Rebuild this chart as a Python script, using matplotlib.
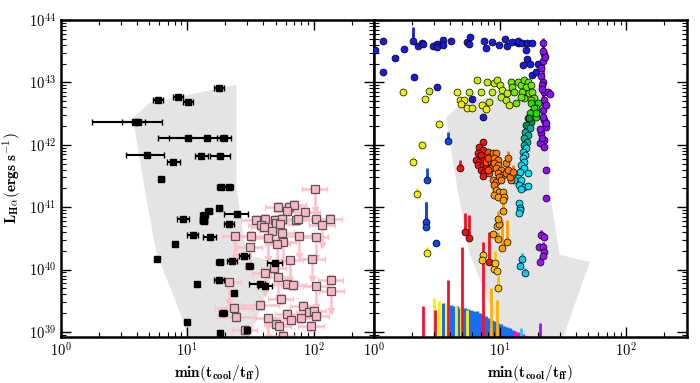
import matplotlib.pyplot as plt
import numpy as np
from matplotlib.ticker import FuncFormatter, LogLocator, NullFormatter

plt.rcParams['mathtext.fontset'] = 'cm'
plt.rcParams['font.family'] = 'serif'

# all values below are log10(min(tcool/tff)) and log10(L_Halpha)

# shaded simulation region
shade_lx = [0.57, 0.70, 1.39, 1.39, 1.47, 1.71, 1.52, 1.45, 1.06, 0.955, 0.756, 0.664]
shade_ly = [42.43, 42.67, 42.96, 41.30, 40.24, 40.12, 39.04, 38.5, 38.5, 39.25, 40.27, 41.28]

# observed: black squares (x errors in dex, low / high)
obs_lx = [1.254, 0.767, 0.926, 1.005, 0.587, 0.614, 1.010, 1.156, 1.288, 0.683, 1.111, 1.262,
          0.891, 0.794, 1.27, 1.328, 1.254, 1.394, 1.169, 1.135, 1.128, 1.13, 0.966, 1.333,
          1.042, 1.177, 0.905, 0.764, 1.256, 1.355, 1.447, 1.492, 1.249, 1.079, 1.368, 1.283,
          0.997, 1.262, 1.693, 1.579, 1.614, 1.471]
obs_ly = [42.907, 42.71, 42.77, 42.68, 42.363, 42.37, 42.107, 42.107, 42.107, 41.84, 41.824, 41.824,
          41.723, 41.445, 41.323, 41.323, 40.987, 40.891, 40.944, 40.875, 40.80, 40.773, 40.811, 40.731,
          40.549, 40.528, 40.411, 40.165, 40.123, 40.144, 40.224, 40.064, 39.84, 39.771, 39.621, 39.312,
          39.163, 38.987, 40.112, 39.771, 39.739, 39.035]
obs_elo = [0.04, 0.04, 0.04, 0.04, 0.344, 0.133, 0.243, 0.30, 0.05, 0.17, 0.05, 0.08,
           0.05, 0.02, 0.035, 0.035, 0.02, 0.10, 0.03, 0.03, 0.03, 0.03, 0.05, 0.04,
           0.04, 0.05, 0.0, 0.0, 0.03, 0.04, 0.04, 0.03, 0.04, 0.0, 0.0, 0.03,
           0.0, 0.0, 0.06, 0.09, 0.05, 0.02]
obs_ehi = [0.04, 0.04, 0.04, 0.04, 0.217, 0.053, 0.146, 0.10, 0.06, 0.13, 0.05, 0.08,
           0.05, 0.02, 0.035, 0.035, 0.02, 0.084, 0.03, 0.03, 0.03, 0.03, 0.05, 0.04,
           0.04, 0.05, 0.0, 0.0, 0.03, 0.04, 0.04, 0.03, 0.04, 0.0, 0.0, 0.03,
           0.0, 0.0, 0.06, 0.04, 0.06, 0.02]

# observed: pink squares (detections)
pk_lx = [1.717, 1.804, 1.844, 1.786, 1.934, 1.548, 1.617, 1.585, 1.606, 1.693, 1.704, 1.751,
         1.738, 1.862, 1.879, 2.021, 2.129, 1.505, 1.672, 1.748, 1.685, 1.786, 1.839, 2.135,
         1.741, 1.574, 1.913, 1.373, 1.963, 2.002, 2.021, 1.791, 1.825, 1.897, 1.706, 1.725,
         1.979, 1.383, 1.455, 1.756]
pk_ly = [40.997, 41.01, 41.03, 40.94, 40.923, 40.795, 40.816, 40.72, 40.69, 40.795, 40.747, 40.816,
         40.736, 40.80, 40.816, 40.805, 40.805, 40.539, 40.624, 40.592, 40.021, 39.776, 39.76, 39.84,
         39.536, 39.435, 39.424, 39.392, 39.317, 39.333, 39.253, 39.291, 39.2, 39.227, 39.136, 39.104,
         39.104, 39.248, 39.035, 38.944]
pk_ex = [0.10, 0.10, 0.10, 0.10, 0.12, 0.12, 0.10, 0.10, 0.10, 0.10, 0.10, 0.10,
         0.10, 0.10, 0.10, 0.10, 0.10, 0.10, 0.10, 0.10, 0.10, 0.10, 0.10, 0.10,
         0.10, 0.15, 0.10, 0.15, 0.10, 0.10, 0.10, 0.10, 0.10, 0.10, 0.10, 0.10,
         0.10, 0.15, 0.10, 0.10]

# observed: pink squares (upper limits)
pu_lx = [2.010, 2.066, 1.378, 1.640, 1.883, 2.016, 1.762, 1.712, 1.494, 1.817, 1.99, 1.614,
         1.722, 2.016, 2.14, 1.328, 1.64]
pu_ly = [41.291, 40.72, 40.539, 40.501, 40.544, 40.523, 40.448, 40.405, 40.368, 40.16, 40.176, 39.952,
         39.883, 39.739, 39.664, 39.797, 39.227]

# simulation tracks (circles), grouped by colour
blue_lx = [0.013, 0.071, 0.071, 0.167, 0.238, 0.31, 0.317, 0.349, 0.381, 0.389, 0.468, 0.5, 0.5,
           0.548, 0.548, 0.611, 0.738, 0.754, 0.762, 0.873, 0.889, 0.937, 0.992, 1.04, 1.056,
           1.095, 1.14, 1.143, 1.175, 1.21, 1.254, 1.206, 1.21, 1.183, 1.238, 1.25, 1.286, 1.302,
           0.503, 0.775, 0.865]
blue_ly = [43.52, 43.67, 43.17, 43.39, 43.54, 43.67, 43.08, 43.58, 43.63, 43.61, 43.58, 43.62, 43.57,
           43.68, 43.60, 43.67, 43.65, 43.62, 43.72, 43.67, 43.55, 43.65, 43.60, 43.70, 43.59,
           43.64, 43.63, 43.66, 43.63, 43.63, 43.63, 43.52, 43.37, 43.28, 43.29, 43.12, 43.17, 43.29,
           42.93, 42.73, 42.45]

blue2_lx = [0.590, 0.418, 0.413, 0.413, 0.490]
blue2_ly = [42.06, 41.44, 40.77, 40.69, 40.42]
blue2_top = [42.20, 41.63, 41.08, 41.08, 40.48]

purple_lx = [1.336, 1.336, 1.325, 1.336, 1.344, 1.376, 1.397, 1.349, 1.336, 1.344, 1.365, 1.325,
             1.349, 1.317, 1.349, 1.328, 1.317, 1.341, 1.36, 1.33, 1.32, 1.35, 1.36, 1.36,
             1.339, 1.352, 1.331, 1.36]
purple_ly = [43.63, 43.34, 43.23, 43.01, 42.85, 42.85, 42.82, 42.72, 42.56, 42.40, 42.29, 42.19,
             42.08, 42.03, 41.96, 42.11, 42.25, 42.45, 42.63, 42.95, 43.10, 43.45, 41.60, 41.14,
             43.50, 43.40, 42.90, 42.35]
purple2_lx = [1.325, 1.347, 1.304, 1.339, 1.347, 1.341, 1.315]
purple2_ly = [40.56, 40.52, 40.36, 40.37, 40.29, 40.22, 40.13]

yellow_lx = [0.518, 0.379, 0.233, 0.407, 0.661, 0.683, 0.714, 0.693, 0.741, 0.775, 0.86, 0.886]
yellow_ly = [42.34, 42.0, 42.84, 42.74, 42.85, 42.72, 42.72, 42.66, 42.59, 42.59, 42.64, 42.57]
yellow2_lx = [0.312, 0.344, 0.423]
yellow2_ly = [41.73, 41.21, 40.27]
yellow2_top = [41.80, 41.30, 40.36]

lime_lx = [0.437, 0.754, 0.82, 0.847, 0.913, 0.939, 0.894, 0.952, 0.979, 1.0, 1.018, 1.005,
           1.045, 1.058, 1.071]
lime_ly = [42.86, 42.84, 43.04, 42.85, 42.69, 42.85, 43.01, 42.99, 43.04, 42.96, 42.88, 42.77,
           42.72, 42.83, 42.64]
green_lx = [1.085, 1.098, 1.111, 1.125, 1.138, 1.164, 1.19, 1.217, 1.204, 1.177, 1.19, 1.164,
            1.243, 1.23, 1.256, 1.27, 1.243]
green_ly = [43.01, 42.93, 42.85, 42.67, 43.01, 42.96, 43.04, 43.01, 42.93, 42.85, 42.75, 42.77,
            42.96, 42.83, 42.85, 42.75, 42.72]
bgreen_lx = [1.296, 1.283, 1.256, 1.283, 1.246, 1.272, 1.233, 1.286]
bgreen_ly = [42.67, 42.59, 42.53, 42.45, 42.67, 42.59, 42.51, 42.51]
dgreen_lx = [1.22, 1.246, 1.206, 1.23]
dgreen_ly = [42.43, 42.37, 42.32, 42.43]
teal_lx = [1.233, 1.198, 1.22, 1.193, 1.214, 1.188]
teal_ly = [42.27, 42.21, 42.16, 42.11, 42.05, 42.0]
cyan_lx = [1.206, 1.180, 1.198, 1.180, 1.193, 1.167, 1.188, 1.161, 1.220, 1.140, 1.167, 1.153,
           1.193, 1.220, 1.167, 1.153, 1.161, 1.159, 1.153, 1.111]
cyan_ly = [41.95, 41.89, 41.84, 41.79, 41.73, 41.68, 41.63, 41.57, 41.55, 41.47, 41.44, 41.36,
           41.33, 41.34, 41.29, 41.07, 40.99, 40.96, 40.90, 41.44]
cyan2_lx = [1.175, 1.161, 1.198]
cyan2_ly = [40.17, 40.06, 39.94]
cyan2_top = [40.27, 40.15, 40.03]

red_lx = [0.863, 0.836, 0.863, 0.823, 0.849, 0.810, 0.836, 0.875, 0.823, 0.863, 0.889, 0.849,
          0.875, 0.863]
red_ly = [42.05, 41.97, 41.92, 41.87, 41.84, 41.76, 41.73, 41.76, 41.68, 41.68, 41.65, 41.60,
          41.57, 41.50]
red2_lx = [0.685, 0.725, 0.752, 0.915]
red2_ly = [41.63, 40.61, 40.50, 40.12]
red2_top = [41.76, 40.90, 40.88, 40.61]
rorange_lx = [0.902, 0.915, 0.889, 0.929, 0.902, 0.942, 0.929, 0.915, 0.902]
rorange_ly = [41.89, 41.81, 41.73, 41.73, 41.79, 41.68, 41.63, 41.55, 41.60]
orange_lx = [0.942, 0.968, 0.950, 0.982, 0.955, 0.987, 0.968, 1.008, 0.982, 1.021, 1.048, 0.994,
             0.942, 0.968, 0.950, 1.008, 1.061, 1.048, 1.087, 1.082]
orange_ly = [41.87, 41.87, 41.79, 41.76, 41.71, 41.68, 41.63, 41.60, 41.55, 41.52, 41.55, 41.48,
             41.44, 41.41, 41.36, 41.44, 41.60, 41.71, 41.44, 41.49]
orange2_lx = [1.101, 1.061]
orange2_ly = [41.57, 41.79]
orange2_top = [41.68, 41.90]
amber_lx = [0.968, 0.994, 1.021, 0.955, 0.987, 1.029, 1.021, 0.976, 0.994, 0.942]
amber_ly = [41.28, 41.25, 41.25, 41.20, 41.17, 41.17, 41.12, 40.70, 40.73, 40.57]
amber2_lx = [1.021, 0.982, 0.987, 1.056, 1.016]
amber2_ly = [40.94, 40.81, 40.49, 40.45, 40.35]
amber2_top = [41.10, 40.94, 40.60, 40.80, 40.80]
gold_lx = [0.863, 0.857, 0.950, 0.976]
gold_ly = [40.24, 40.16, 40.01, 39.97]
gold2_lx = [0.960, 0.987]
gold2_ly = [40.11, 39.71]
gold2_top = [40.30, 39.90]

# limits rising from below the plot
lim_red_lx = [0.391, 0.487, 0.585, 0.701, 0.867]
lim_red_top = [39.41, 39.35, 39.84, 40.36, 40.45]
lim_yel_lx = [0.474, 0.513, 0.577, 0.651, 0.687, 0.738]
lim_yel_top = [39.55, 39.50, 39.46, 39.42, 39.41, 39.36]
lim_blue_lx = [0.545, 0.609, 0.627, 0.655, 0.675, 0.698, 0.722, 0.746, 0.770, 0.794, 0.817, 0.841,
               0.865, 0.889, 0.913, 0.937, 0.960, 0.984, 1.008, 1.032, 1.056, 1.079, 1.103]
lim_blue_top = [39.47, 39.44, 39.42, 39.41, 39.39, 39.38, 39.38, 39.37, 39.36, 39.34, 39.33, 39.31,
                39.29, 39.26, 39.23, 39.20, 39.18, 39.15, 39.13, 39.10, 39.08, 39.06, 39.03]
lim_mag_lx = [1.119, 1.139, 1.159, 1.179, 1.198, 1.218]
lim_mag_top = [39.02, 39.0, 38.98, 38.97, 38.94, 38.93]
lim_amber_lx = [0.929, 0.976]
lim_amber_top = [39.70, 39.52]
lim_cyan_lx = [1.167]
lim_cyan_top = [39.07]
lim_purple_lx = [1.312]
lim_purple_top = [39.15]

YMIN = 10**38.92
PINK = '#ffbfcb'

fig, (ax1, ax2) = plt.subplots(1, 2, figsize=(7, 3.83), dpi=100, sharey=True)
fig.subplots_adjust(left=0.087, right=0.981, bottom=0.12, top=0.948, wspace=0)

for ax in (ax1, ax2):
    ax.fill(10**np.array(shade_lx), 10**np.array(shade_ly), color='#e4e4e4', lw=0, zorder=0)

# left panel
pk_x = 10**np.array(pk_lx)
pk_y = 10**np.array(pk_ly)
pk_e = np.array(pk_ex)
ax1.errorbar(pk_x, pk_y,
             xerr=[pk_x - 10**(np.array(pk_lx) - pk_e), 10**(np.array(pk_lx) + pk_e) - pk_x],
             yerr=[pk_y - 10**(np.array(pk_ly) - 0.08), 10**(np.array(pk_ly) + 0.08) - pk_y],
             fmt='s', ms=6, mfc='#f7b8c4', mec='#555555', mew=0.9, ecolor=PINK,
             elinewidth=1.8, capsize=2.5, capthick=1.2, zorder=2)

# upper limits: line down with an arrow head
pu_x = 10**np.array(pu_lx)
pu_y = 10**np.array(pu_ly)
pu_low = 10**(np.array(pu_ly) - 0.33)
ax1.vlines(pu_x, pu_low, pu_y, color=PINK, lw=1.8, zorder=2)
ax1.plot(pu_x, pu_low, 'v', ls='none', ms=5, color=PINK, zorder=2)
ax1.errorbar(pu_x, pu_y,
             xerr=[pu_x - 10**(np.array(pu_lx) - 0.1), 10**(np.array(pu_lx) + 0.1) - pu_x],
             fmt='s', ms=6, mfc='#f7b8c4', mec='#555555', mew=0.9, ecolor=PINK,
             elinewidth=1.8, capsize=2.5, capthick=1.2, zorder=2)

ob_x = 10**np.array(obs_lx)
ax1.errorbar(ob_x, 10**np.array(obs_ly),
             xerr=[ob_x - 10**(np.array(obs_lx) - np.array(obs_elo)),
                   10**(np.array(obs_lx) + np.array(obs_ehi)) - ob_x],
             fmt='s', ms=5, color='black', elinewidth=1.5, capsize=2.5, capthick=1, zorder=3)

# right panel
def circles(lx, ly, c):
    ax2.plot(10**np.array(lx), 10**np.array(ly), 'o', ls='none', ms=5, mfc=c,
             mec='black', mew=0.5, zorder=3)

def bars(lx, ly, top, c):
    ax2.vlines(10**np.array(lx), 10**np.array(ly), 10**np.array(top), color=c, lw=2, zorder=2)

def floor_bars(lx, top, c, lw=2):
    ax2.vlines(10**np.array(lx), YMIN, 10**np.array(top), color=c, lw=lw, zorder=1)

floor_bars(lim_blue_lx, lim_blue_top, '#1a6cf5', lw=2.4)
floor_bars(lim_mag_lx, lim_mag_top, '#f512c8', lw=2.4)
floor_bars(lim_yel_lx, lim_yel_top, '#ffee00')
floor_bars(lim_red_lx, lim_red_top, '#f51030')
floor_bars(lim_amber_lx, lim_amber_top, '#ffb000')
floor_bars(lim_cyan_lx, lim_cyan_top, '#20d0f0')
floor_bars(lim_purple_lx, lim_purple_top, '#9b10f0')

ax2.vlines(10**1.341, 10**41.92, 10**43.71, color='#8a10f0', lw=2, zorder=2)
ax2.vlines(10**0.312, 10**43.67, 10**43.89, color='#1a1adc', lw=2, zorder=2)
bars(blue2_lx, blue2_ly, blue2_top, '#1048e0')
bars(yellow2_lx, yellow2_ly, yellow2_top, '#f5f000')
bars(red2_lx, red2_ly, red2_top, '#f51020')
bars(orange2_lx, orange2_ly, orange2_top, '#ff7a00')
bars(amber2_lx, amber2_ly, amber2_top, '#ffa000')
bars(gold2_lx, gold2_ly, gold2_top, '#ffc400')
bars(cyan2_lx, cyan2_ly, cyan2_top, '#20c0f0')
bars(purple2_lx, purple2_ly, [v + 0.07 for v in purple2_ly], '#9b10f0')

circles(blue_lx, blue_ly, '#1a1adc')
circles(purple_lx, purple_ly, '#8a10f0')
circles(purple2_lx, purple2_ly, '#9b10f0')
circles(yellow_lx, yellow_ly, '#f0f000')
circles(yellow2_lx, yellow2_ly, '#f0f000')
circles(lime_lx, lime_ly, '#c0f000')
circles(green_lx, green_ly, '#70e600')
circles(bgreen_lx, bgreen_ly, '#28dc00')
circles(dgreen_lx, dgreen_ly, '#009048')
circles(teal_lx, teal_ly, '#00b0a0')
circles(cyan_lx, cyan_ly, '#10d8f0')
circles(cyan2_lx, cyan2_ly, '#20c0f0')
circles(blue2_lx, blue2_ly, '#1048e0')
circles(red_lx, red_ly, '#f01010')
circles(red2_lx, red2_ly, '#f01010')
circles(rorange_lx, rorange_ly, '#ff4800')
circles(orange_lx, orange_ly, '#ff7a00')
circles(orange2_lx, orange2_ly, '#ff7a00')
circles(amber_lx, amber_ly, '#ffa000')
circles(amber2_lx, amber2_ly, '#ffa000')
circles(gold_lx, gold_ly, '#ffc400')
circles(gold2_lx, gold2_ly, '#ffc400')

fmt = FuncFormatter(lambda v, pos: r'$\mathbf{10^{%d}}$' % round(np.log10(v)))
for ax in (ax1, ax2):
    ax.set_xscale('log')
    ax.set_yscale('log')
    ax.set_xlim(1, 300)
    ax.set_ylim(YMIN, 1e44)
    ax.xaxis.set_major_locator(LogLocator(base=10, numticks=10))
    ax.xaxis.set_minor_locator(LogLocator(base=10, subs=np.arange(2, 10), numticks=20))
    ax.yaxis.set_major_locator(LogLocator(base=10, numticks=10))
    ax.yaxis.set_minor_locator(LogLocator(base=10, subs=np.arange(2, 10), numticks=20))
    ax.xaxis.set_major_formatter(fmt)
    ax.xaxis.set_minor_formatter(NullFormatter())
    ax.tick_params(which='both', direction='in', top=True, right=True, labelsize=10.5)
    ax.tick_params(which='major', length=7, width=1)
    ax.tick_params(which='minor', length=3.5, width=0.8)
    for s in ax.spines.values():
        s.set_linewidth(1.8)
    ax.set_xlabel(r'$\mathbf{min(t_{cool}/t_{ff})}$', fontsize=11, labelpad=2)

ax1.yaxis.set_major_formatter(fmt)
ax1.yaxis.set_minor_formatter(NullFormatter())
ax2.tick_params(labelleft=False)
ax1.set_ylabel(r'$\mathbf{L_{H\alpha}(ergs\ s^{-1})}$', fontsize=11, labelpad=4)

plt.savefig('out.png', dpi=100)
